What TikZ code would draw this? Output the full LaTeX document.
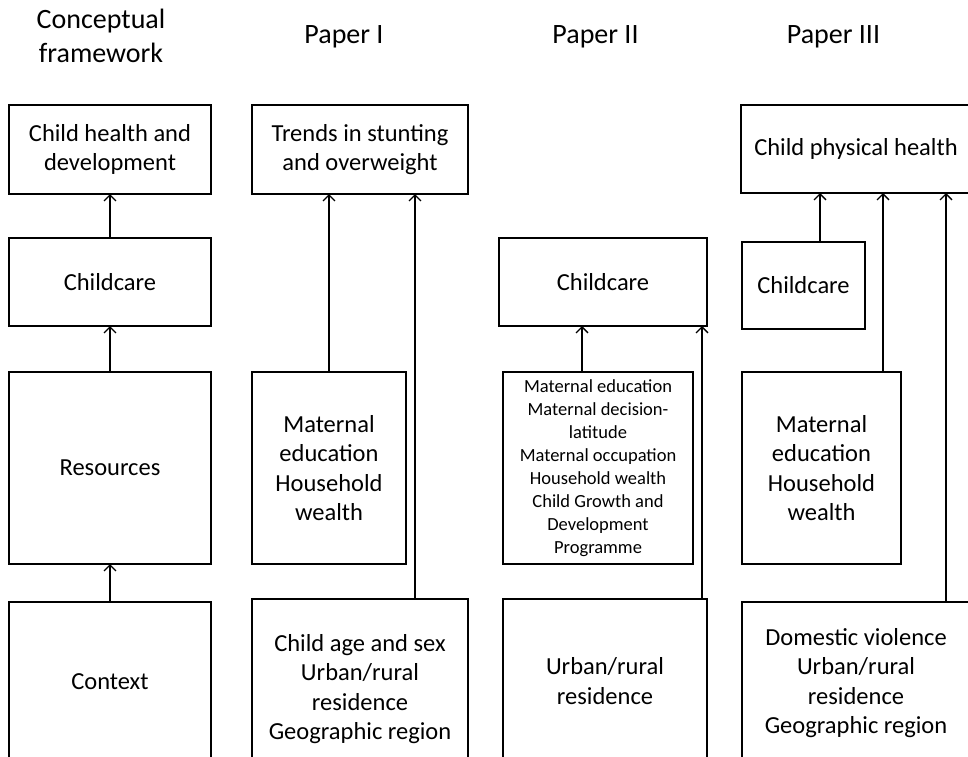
\documentclass[tikz,border=0pt]{standalone}
\usepackage{fontspec}
\setmainfont{Carlito}
\usetikzlibrary{arrows.meta}
\begin{document}
\begin{tikzpicture}[x=1pt,y=-1pt,
  box/.style={draw=black,line width=1.3pt,rectangle,inner sep=0pt,outer sep=0pt,align=center,
    font=\fontsize{24.5}{29.5}\selectfont},
  smallbox/.style={box,font=\fontsize{18.5}{23}\selectfont},
  head/.style={align=center,font=\fontsize{28}{34}\selectfont,inner sep=0pt},
  arr/.style={line width=1.3pt,-{Straight Barb[length=6pt,width=12pt,line width=1.3pt]}}]
\useasboundingbox (0,0) rectangle (968,756);
\clip (0,0) rectangle (968,756);
\fill[white] (0,0) rectangle (968,756);
% headers
\node[head] (hc) at (101,36) {Conceptual\\framework};
\node[head] (h1) at (344,37) {Paper I};
\node[head] (h2) at (595.5,37) {Paper II};
\node[head] (h3) at (833.5,37) {Paper III};
% conceptual framework
\node[box,minimum width=202,minimum height=89] (c1) at (110,149.5) {Child health and\\development};
\node[box,minimum width=202,minimum height=88] (c2) at (110,282) {Childcare};
\node[box,minimum width=202,minimum height=192] (c3) at (110,468) {Resources};
\node[box,minimum width=202,minimum height=160] (c4) at (110,682) {Context};
% paper I
\node[box,minimum width=216,minimum height=89] (p1a) at (360,149.5) {Trends in stunting\\and overweight};
\node[box,minimum width=154,minimum height=192] (p1b) at (329,468) {Maternal\\education\\Household\\wealth};
\node[box,minimum width=216,minimum height=180] (p1c) at (360,689) {Child age and sex\\Urban/rural\\residence\\Geographic region};
% paper II
\node[box,minimum width=208,minimum height=88] (p2a) at (603,282) {Childcare};
\node[smallbox,minimum width=190,minimum height=192] (p2b) at (598,468) {Maternal education\\Maternal decision-\\latitude\\Maternal occupation\\Household wealth\\Child Growth and\\Development\\Programme};
\node[box,minimum width=204,minimum height=164] (p2c) at (605,681) {Urban/rural\\residence};
% paper III
\node[box,minimum width=230,minimum height=88] (p3a) at (856,149) {Child physical health};
\node[box,minimum width=123,minimum height=87] (p3b) at (803.5,285.5) {Childcare};
\node[box,minimum width=159,minimum height=192] (p3c) at (821.5,468) {Maternal\\education\\Household\\wealth};
\node[box,minimum width=228,minimum height=162] (p3d) at (856,683) {Domestic violence\\Urban/rural\\residence\\Geographic region};
% connectors
\draw[arr] (c2.north) -- (c1.south);
\draw[arr] (c3.north) -- (c2.south);
\draw[arr] (c4.north) -- (c3.south);
\draw[arr] (p1b.north) -- (p1b.north |- p1a.south);
\draw[arr] ([xshift=55]p1c.north) coordinate (s1) -- (s1 |- p1a.south);
\draw[arr] ([xshift=-16]p2b.north) coordinate (s2) -- (s2 |- p2a.south);
\draw[arr] ([xshift=97]p2c.north) coordinate (s3) -- (s3 |- p2a.south);
\draw[arr] ([xshift=16.5]p3b.north) coordinate (s4) -- (s4 |- p3a.south);
\draw[arr] ([xshift=61.5]p3c.north) coordinate (s5) -- (s5 |- p3a.south);
\draw[arr] ([xshift=90]p3d.north) coordinate (s6) -- (s6 |- p3a.south);
\end{tikzpicture}
\end{document}
